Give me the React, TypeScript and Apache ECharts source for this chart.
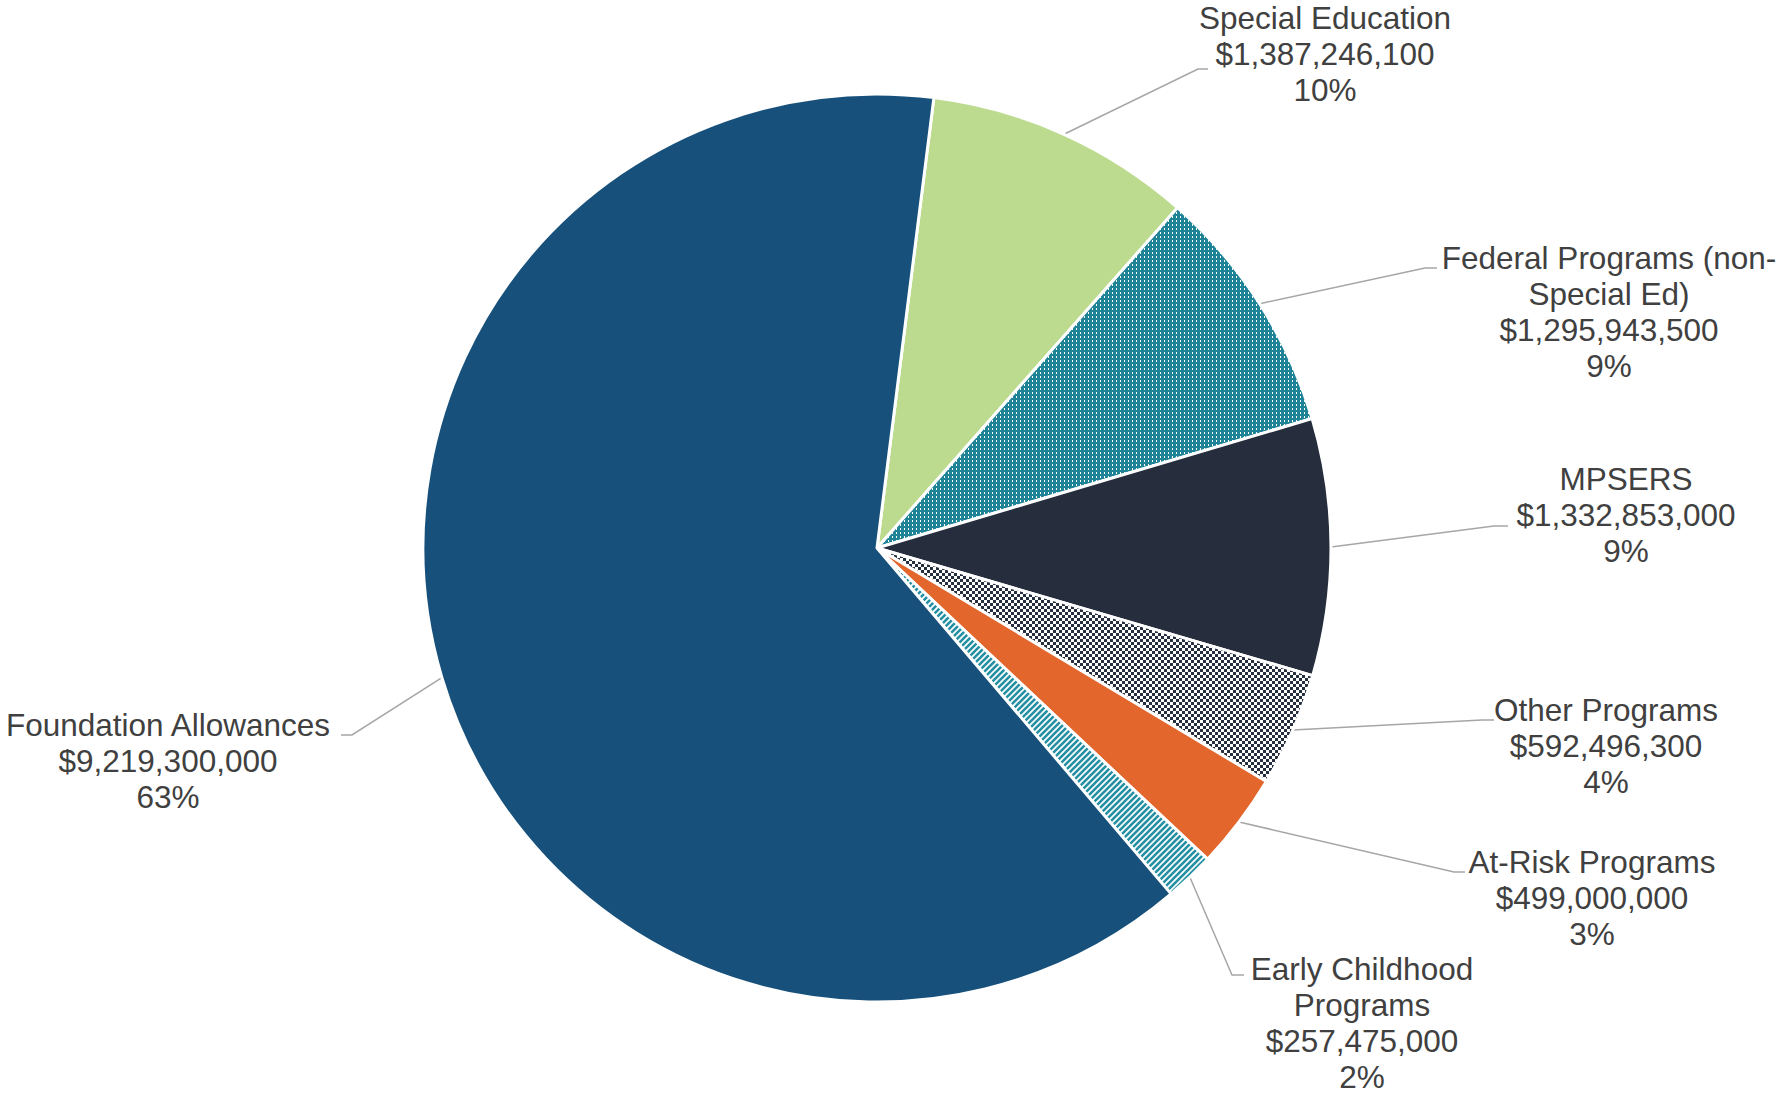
import React, { useEffect, useRef } from "react";
import * as echarts from "echarts";

// ---- Data ----
const CATEGORIES = [
  "Special Education",
  "Federal Programs (non-Special Ed)",
  "MPSERS",
  "Other Programs",
  "At-Risk Programs",
  "Early Childhood Programs",
  "Foundation Allowances",
];
const LABEL_NAMES = [
  "Special Education",
  "Federal Programs (non-\nSpecial Ed)",
  "MPSERS",
  "Other Programs",
  "At-Risk Programs",
  "Early Childhood\nPrograms",
  "Foundation Allowances",
];
const VALUES = [1387246100, 1295943500, 1332853000, 592496300, 499000000, 257475000, 9219300000];

// ---- Layout (label block centre, leader elbow, leader end) ----
const LABEL_LAYOUT = [
  { cx: 1325, cy: 54, ex: 1198, ey: 69, hx: 1208 },
  { cx: 1609, cy: 312, ex: 1425, ey: 268, hx: 1437 },
  { cx: 1626, cy: 515, ex: 1494, ey: 526, hx: 1508 },
  { cx: 1606, cy: 746, ex: 1482, ey: 720, hx: 1494 },
  { cx: 1592, cy: 898, ex: 1454, ey: 872, hx: 1465 },
  { cx: 1362, cy: 1023, ex: 1232, ey: 975, hx: 1244 },
  { cx: 168, cy: 761, ex: 352, ey: 735, hx: 341 },
];

const CENTER = [877, 548];
const RADIUS = 454;
const START_ANGLE = 82.8;

function fmtMoney(v: number): string {
  const s = Math.round(v).toString();
  let out = "";
  for (let i = 0; i < s.length; i++) {
    const rem = s.length - i;
    out += s[i];
    if (rem > 1 && rem % 3 === 1) out += ",";
  }
  return "$" + out;
}

function makeCanvas(w: number, h: number, draw: (ctx: CanvasRenderingContext2D) => void) {
  const c = document.createElement("canvas");
  c.width = w;
  c.height = h;
  const ctx = c.getContext("2d")!;
  draw(ctx);
  return c;
}

export default function App() {
  const ref = useRef<HTMLDivElement>(null);
  useEffect(() => {
    if (!ref.current) return;
    const chart = echarts.init(ref.current, undefined, { renderer: "svg" });

    const dotsTeal = makeCanvas(4, 4, (ctx) => {
      ctx.fillStyle = "#1F8398";
      ctx.fillRect(0, 0, 4, 4);
      ctx.fillStyle = "#ffffff";
      ctx.fillRect(0, 0, 1, 2);
    });
    const checkerNavy = makeCanvas(6, 6, (ctx) => {
      ctx.fillStyle = "#262F3E";
      ctx.fillRect(0, 0, 6, 6);
      ctx.fillStyle = "#ffffff";
      ctx.fillRect(0, 0, 3, 3);
      ctx.fillRect(3, 3, 3, 3);
    });
    const stripesTeal = makeCanvas(6, 6, (ctx) => {
      ctx.fillStyle = "#ffffff";
      ctx.fillRect(0, 0, 6, 6);
      ctx.strokeStyle = "#2490A3";
      ctx.lineWidth = 2.6;
      ctx.beginPath();
      ctx.moveTo(-1, 1);
      ctx.lineTo(1, -1);
      ctx.moveTo(0, 6);
      ctx.lineTo(6, 0);
      ctx.moveTo(5, 7);
      ctx.lineTo(7, 5);
      ctx.stroke();
    });

    const fills: any[] = [
      "#BCDB8F",
      { image: dotsTeal, repeat: "repeat" },
      "#262E3D",
      { image: checkerNavy, repeat: "repeat" },
      "#E3662D",
      { image: stripesTeal, repeat: "repeat" },
      "#17517B",
    ];

    const total = VALUES.reduce((a, b) => a + b, 0);

    const edgePoint = (idx: number) => {
      let cum = 0;
      for (let i = 0; i < idx; i++) cum += VALUES[i];
      const a = ((90 - START_ANGLE) + (360 * (cum + VALUES[idx] / 2)) / total) * (Math.PI / 180);
      return [CENTER[0] + RADIUS * Math.sin(a), CENTER[1] - RADIUS * Math.cos(a)];
    };

    chart.setOption({
      animation: false,
      backgroundColor: "#ffffff",
      series: [
        {
          type: "pie",
          center: CENTER,
          radius: RADIUS,
          startAngle: START_ANGLE,
          clockwise: true,
          avoidLabelOverlap: false,
          itemStyle: { borderColor: "#ffffff", borderWidth: 3 },
          label: {
            show: true,
            position: "outside",
            overflow: "none",
            color: "#404040",
            fontFamily: 'Arial, "Liberation Sans", sans-serif',
            fontSize: 31.5,
            lineHeight: 36,
            align: "center",
            formatter: (p: any) =>
              `${LABEL_NAMES[p.dataIndex]}\n${fmtMoney(p.value)}\n${Math.round(p.percent)}%`,
          },
          labelLine: {
            show: true,
            length: 10,
            length2: 10,
            lineStyle: { color: "#A6A6A6", width: 1.5 },
          },
          labelLayout: (params: any) => {
            const L = LABEL_LAYOUT[params.dataIndex];
            const p0 =
              params.labelLinePoints && params.labelLinePoints[0]
                ? params.labelLinePoints[0]
                : edgePoint(params.dataIndex);
            return {
              x: L.cx,
              y: L.cy,
              align: "center",
              verticalAlign: "middle",
              width: 700,
              labelLinePoints: [p0, [L.ex, L.ey], [L.hx, L.ey]],
            };
          },
          data: CATEGORIES.map((name, i) => ({
            name,
            value: VALUES[i],
            itemStyle: { color: fills[i] },
          })),
        },
      ],
    });
    return () => chart.dispose();
  }, []);

  return (
    <div
      ref={ref}
      style={{ position: "fixed", left: 0, top: 0, width: 1781, height: 1096 }}
    />
  );
}
